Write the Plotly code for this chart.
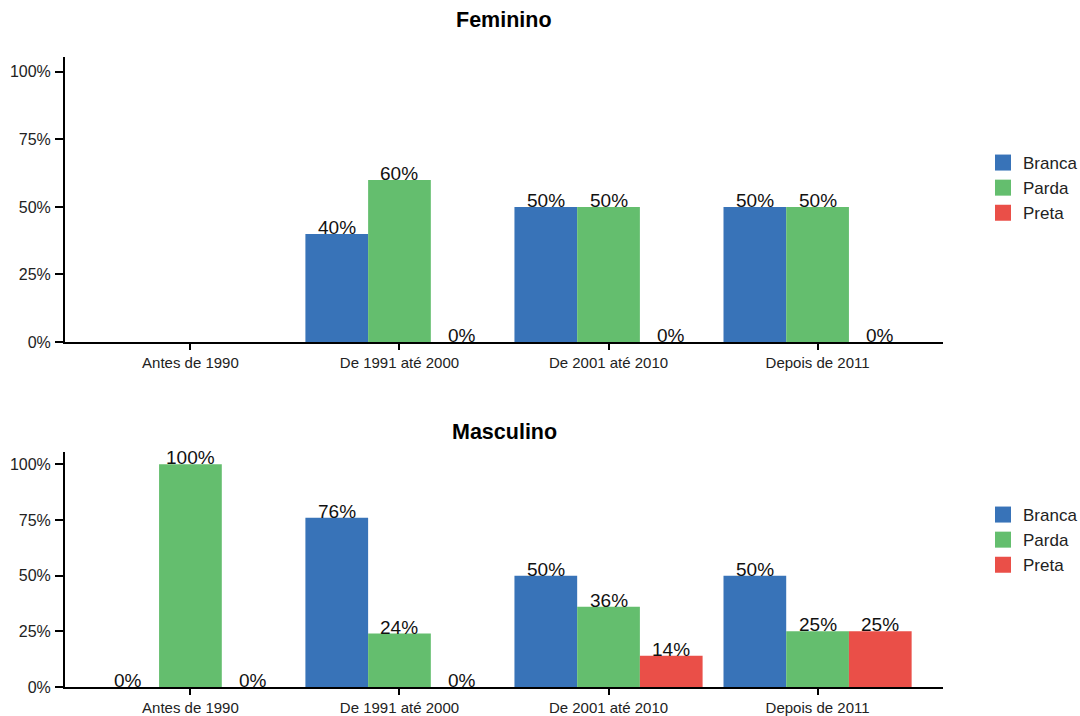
import plotly.graph_objects as go
from plotly.subplots import make_subplots

# Data
periodos = ['Antes de 1990', 'De 1991 até 2000', 'De 2001 até 2010', 'Depois de 2011']
racas = ['Branca', 'Parda', 'Preta']
cores = ['#3873b8', '#64be6e', '#ea4f48']

# Feminino: no data before 1990
fem_branca = [None, 40, 50, 50]
fem_parda = [None, 60, 50, 50]
fem_preta = [None, 0, 0, 0]

masc_branca = [0, 76, 50, 50]
masc_parda = [100, 24, 36, 25]
masc_preta = [0, 0, 14, 25]

painel_titulos = ['Feminino', 'Masculino']
paineis = [
    [fem_branca, fem_parda, fem_preta],
    [masc_branca, masc_parda, masc_preta],
]
y_ticks = [0, 25, 50, 75, 100]

FONT = 'Liberation Sans, Arial, Helvetica, sans-serif'
W, H = 1080, 716

fig = make_subplots(rows=2, cols=1)
xs = list(range(len(periodos)))
offsets = [-0.3, 0.0, 0.3]

for p, series in enumerate(paineis):
    row = p + 1
    for j, vals in enumerate(series):
        fig.add_trace(go.Bar(x=xs, y=vals, name=racas[j], marker_color=cores[j],
                             marker_line_width=0, showlegend=False,
                             offsetgroup=str(j)), row=row, col=1)
        # legend entries (bigger square swatches)
        fig.add_trace(go.Scatter(x=[None], y=[None], mode='markers', name=racas[j],
                                 marker=dict(symbol='square', size=18, color=cores[j]),
                                 legend='legend' if p == 0 else 'legend2'),
                      row=row, col=1)
        # value labels
        for i, v in enumerate(vals):
            if v is None:
                continue
            fig.add_annotation(x=xs[i] + offsets[j], y=v, text='%d%%' % v,
                               showarrow=False, yanchor='bottom', yshift=-6,
                               font=dict(size=19, color='#111', family=FONT),
                               xref='x' if p == 0 else 'x2',
                               yref='y' if p == 0 else 'y2')

# panel positions in pixels (top, bottom, title centre)
pix = [(57, 342, 20), (452, 687, 432)]
for p, (top, bot, ty) in enumerate(pix):
    sfx = '' if p == 0 else str(p + 1)
    fig.layout['yaxis' + sfx].domain = [1 - bot / H, 1 - top / H]
    fig.update_yaxes(range=[0, 105.5], tickvals=y_ticks,
                     ticktext=['%d%%' % t for t in y_ticks],
                     showline=True, linecolor='black', linewidth=2,
                     ticks='outside', ticklen=8, tickwidth=1.5, tickcolor='black',
                     showgrid=False, zeroline=False, ticklabelstandoff=1,
                     automargin=False,
                     tickfont=dict(size=16, color='#222', family=FONT),
                     row=p + 1, col=1)
    fig.update_xaxes(range=[-0.6, 3.6], tickvals=xs, ticktext=periodos,
                     showline=True, linecolor='black', linewidth=2,
                     ticks='outside', ticklen=6, tickwidth=1.5, tickcolor='black',
                     showgrid=False, zeroline=False, ticklabelstandoff=0,
                     automargin=False,
                     tickfont=dict(size=15, color='#222', family=FONT),
                     row=p + 1, col=1)
    fig.add_annotation(text='<b>%s</b>' % painel_titulos[p], xref='paper', yref='paper',
                       x=0.5, y=1 - ty / H, yanchor='middle', showarrow=False,
                       font=dict(size=21.5, color='black', family=FONT))

L, R = 65, 137
leg_style = dict(xref='container', yref='container', x=983 / W,
                 xanchor='left', yanchor='top',
                 font=dict(size=17, color='#222', family=FONT),
                 bgcolor='rgba(0,0,0,0)', tracegroupgap=0, itemsizing='trace')

fig.update_layout(
    width=W, height=H,
    margin=dict(l=L, r=R, t=0, b=0),
    barmode='group', bargap=0.1, bargroupgap=0,
    plot_bgcolor='white', paper_bgcolor='white',
    font=dict(family=FONT),
    legend=dict(y=1 - 145 / H, **leg_style),
    legend2=dict(y=1 - 497 / H, **leg_style),
)

fig.write_html('out.html', config={'displayModeBar': False},
               post_script="document.body.style.margin='0';")
